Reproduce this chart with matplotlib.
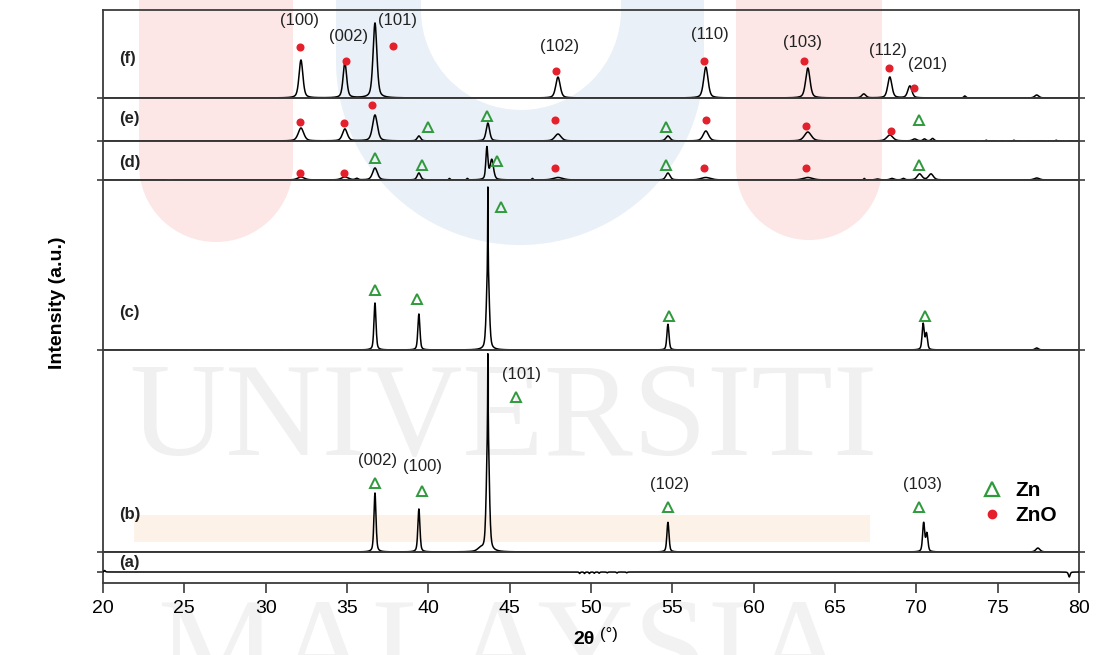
import numpy as np
import matplotlib
matplotlib.use('Agg')
import matplotlib.pyplot as plt
from matplotlib.patches import Rectangle, Ellipse
from matplotlib.lines import Line2D

plt.rcParams['font.family'] = ['Liberation Sans', 'DejaVu Sans']

# ---------------- data (intensity in arbitrary units) -------------
two_theta_min, two_theta_max = 20, 80
x_ticks = [20, 25, 30, 35, 40, 45, 50, 55, 60, 65, 70, 75, 80]
panel_names = ['f', 'e', 'd', 'c', 'b', 'a']

# (f) peaks
f_pos = [32.17, 34.87, 36.72, 47.97, 57.06, 63.33, 66.77, 68.37, 69.60, 72.98, 77.40]
f_int = [38, 35, 75, 21, 31, 30, 4, 21, 12, 2, 3]
f_fwhm = [0.28, 0.26, 0.28, 0.32, 0.32, 0.32, 0.30, 0.30, 0.30, 0.15, 0.30]
f_dot_x = [32.11, 34.94, 37.82, 47.84, 56.94, 63.09, 68.31, 69.85]
f_dot_y = [51, 37, 52, 27, 37, 37, 30, 10]
f_hkl = ['(100)', '(002)', '(101)', '(102)', '(110)', '(103)', '(112)', '(201)']
f_hkl_x = [32.11, 35.12, 38.13, 48.09, 57.31, 63.02, 68.25, 70.71]
f_hkl_y = [77, 61, 77, 51, 63, 56, 48, 33]

# (e) peaks
e_pos = [32.17, 34.87, 36.72, 39.42, 43.66, 47.97, 54.73, 57.06, 63.33, 68.37, 69.9, 70.5, 71.0,
         73.8, 74.3, 75.0, 75.5, 76.0, 76.6, 78.0, 78.6, 79.2, 79.7]
e_int = [13, 12, 26, 5, 18, 7, 5, 10, 9, 6, 2, 2, 2.5,
         -1.2, 0.8, -1.2, -1.0, 0.8, -1.2, -1.0, 0.8, -1.2, -1.0]
e_fwhm = [0.40, 0.35, 0.35, 0.25, 0.25, 0.45, 0.30, 0.40, 0.50, 0.45, 0.30, 0.20, 0.20,
          0.12, 0.10, 0.12, 0.12, 0.10, 0.12, 0.12, 0.10, 0.12, 0.12]
e_dot_x = [32.11, 34.81, 36.53, 47.78, 57.06, 63.21, 68.43]
e_dot_y = [19, 18, 36, 21, 21, 15, 10]
e_tri_x = [39.98, 43.60, 54.60, 70.15]
e_tri_y = [14, 25, 14, 21]

# (d) peaks
d_pos = [24.1, 32.17, 34.87, 35.6, 36.72, 39.42, 41.3, 42.4, 43.60, 43.90, 46.4, 47.97,
         54.73, 57.06, 63.33, 66.8, 67.6, 68.5, 69.2, 70.2, 70.9, 77.4]
d_int = [-1.5, 3, 3, 1.5, 12, 7, 1.5, 1.5, 32, 20, 1.5, 2.5,
         7, 2.5, 2.5, 1.5, 1.0, 1.5, 1.5, 6, 6, 2]
d_fwhm = [0.25, 0.50, 0.50, 0.20, 0.35, 0.25, 0.10, 0.10, 0.15, 0.25, 0.10, 0.70,
          0.30, 0.70, 0.70, 0.10, 0.30, 0.30, 0.20, 0.35, 0.35, 0.40]
d_dot_x = [32.11, 34.81, 47.78, 56.94, 63.21]
d_dot_y = [7, 7, 12, 12, 12]
d_tri_x = [36.72, 39.60, 44.20, 54.60, 70.15]
d_tri_y = [22, 15, 19, 15, 15]

# (c) peaks
c_pos = [21.5, 22.6, 25.3, 26.0, 26.8, 27.5, 28.3, 29.0, 29.8, 30.6, 31.2,
         36.72, 39.42, 43.66, 43.66, 54.73, 70.42, 70.62, 77.4]
c_int = [-2, -2, -1, -1, -1, -1, -1, -1, -1, -1, -1,
         47, 36, 85, 78, 26, 26, 16, 2]
c_fwhm = [0.08, 0.08, 0.10, 0.10, 0.10, 0.10, 0.10, 0.10, 0.10, 0.10, 0.10,
          0.15, 0.15, 0.20, 0.03, 0.15, 0.15, 0.15, 0.25]
c_tri_x = [36.72, 39.30, 44.46, 54.79, 70.52]
c_tri_y = [60, 51, 143, 34, 34]

# (b) peaks
b_pos = [36.72, 39.42, 43.20, 43.66, 43.66, 54.73, 70.45, 70.65, 77.47]
b_int = [59, 43, 3, 125, 73, 30, 29, 18, 4]
b_fwhm = [0.15, 0.15, 0.40, 0.20, 0.03, 0.15, 0.15, 0.15, 0.30]
b_tri_x = [36.72, 39.60, 45.38, 54.73, 70.15]
b_tri_y = [69, 61, 155, 45, 45]
b_hkl = ['(002)', '(100)', '(101)', '(102)', '(103)']
b_hkl_x = [36.90, 39.67, 45.75, 54.85, 70.40]
b_hkl_y = [92, 85, 177, 67, 67]

# (a) nearly flat pattern
a_pos = [20.1, 49.3, 49.6, 49.9, 50.2, 50.5, 51.0, 51.6, 52.2, 79.4]
a_int = [1.5, -1.5, -1.5, -1.5, -1.2, -1.2, -0.8, -1.0, -0.8, -5]
a_fwhm = [0.10, 0.08, 0.08, 0.08, 0.08, 0.08, 0.08, 0.08, 0.08, 0.12]

# ---------------- layout ----------------
W, H = 1102, 655
fig = plt.figure(figsize=(W / 100, H / 100), dpi=100)

def fx(px):
    return px / W

def fy(py):
    return 1 - py / H

# faint background watermark
pink = '#fce6e6'
blue = '#e9f0f7'

def pillar(x0, x1, ybot, color):
    r = (x1 - x0) / 2
    yc = ybot - r
    fig.add_artist(Rectangle((fx(x0), fy(yc)), (x1 - x0) / W, yc / H + 0.01,
                             transform=fig.transFigure, color=color, lw=0, zorder=-5))
    fig.add_artist(Ellipse((fx((x0 + x1) / 2), fy(yc)), 2 * r / W, 2 * r / H,
                           transform=fig.transFigure, color=color, lw=0, zorder=-5))

pillar(139, 293, 242, pink)
pillar(336, 704, 245, blue)
pillar(421, 621, 110, 'white')
pillar(736, 882, 240, pink)
fig.add_artist(Rectangle((fx(134), fy(542)), (870 - 134) / W, 27 / H,
                         transform=fig.transFigure, color='#fdf2e8', lw=0, zorder=-5))
fig.text(fx(503), fy(455), 'UNIVERSITI', ha='center', va='baseline', fontsize=96,
         family='Liberation Serif', color='#f0f0f0', zorder=-4)
fig.text(fx(503), fy(690), 'MALAYSIA', ha='center', va='baseline', fontsize=96,
         family='Liberation Serif', color='#f2f2f2', zorder=-4)

x0_px, x1_px = 103, 1079
bounds = {'f': (10, 98), 'e': (98, 141), 'd': (141, 180),
          'c': (180, 350), 'b': (350, 552), 'a': (552, 583)}

x = np.arange(two_theta_min, two_theta_max + 0.001, 0.02)

def pattern(pos, inten, fwhm):
    y = np.zeros_like(x)
    for c, h, w in zip(pos, inten, fwhm):
        g = np.exp(-4 * np.log(2) * ((x - c) / w) ** 2)
        l = 1 / (1 + 4 * ((x - c) / w) ** 2)
        y += h * (0.55 * g + 0.45 * l)
    return y

tables = {'f': (f_pos, f_int, f_fwhm), 'e': (e_pos, e_int, e_fwhm),
          'd': (d_pos, d_int, d_fwhm), 'c': (c_pos, c_int, c_fwhm),
          'b': (b_pos, b_int, b_fwhm), 'a': (a_pos, a_int, a_fwhm)}

label_y = {'f': 40, 'e': 23, 'd': 18, 'c': 38, 'b': 38, 'a': 10}

red = '#e3202b'
green = '#2f9a3c'
spine_c = '#3c3c3c'

axes = {}
for name in panel_names:
    top, bot = bounds[name]
    ax = fig.add_axes([fx(x0_px), fy(bot), (x1_px - x0_px) / W, (bot - top) / H])
    ax.set_facecolor('none')
    ax.set_xlim(two_theta_min, two_theta_max)
    if name == 'a':
        ax.set_ylim(-11, bot - top - 11)
    else:
        ax.set_ylim(0, bot - top)
    for s in ax.spines.values():
        s.set_color(spine_c)
        s.set_linewidth(1.3)
    ax.set_yticks([0])
    ax.tick_params(axis='y', left=True, right=True, direction='out', length=4,
                   width=1.2, color=spine_c, labelleft=False)
    if name == 'a':
        ax.set_xticks(x_ticks)
        ax.tick_params(axis='x', direction='out', length=7, width=1.2, color=spine_c,
                       labelsize=14, pad=5)
    else:
        ax.tick_params(axis='x', bottom=False, labelbottom=False)
    pos, inten, fwhm = tables[name]
    ax.plot(x, pattern(pos, inten, fwhm), color='black', lw=1.1, zorder=3)
    ax.text(21.0, label_y[name], '(%s)' % name, ha='left', va='center',
            fontsize=12, fontweight='bold', color='#222222')
    axes[name] = ax

def dots(ax, xs, ys):
    ax.plot(xs, ys, ls='none', marker='o', ms=4.8, color=red, mec=red, zorder=5, clip_on=False)

def tris(ax, xs, ys):
    ax.plot(xs, ys, ls='none', marker='^', ms=7.5, mfc='none', mec=green, mew=1.4,
            zorder=5, clip_on=False)

dots(axes['f'], f_dot_x, f_dot_y)
for t, xx, yy in zip(f_hkl, f_hkl_x, f_hkl_y):
    axes['f'].text(xx, yy, t, ha='center', va='center', fontsize=12, color='#222222')
dots(axes['e'], e_dot_x, e_dot_y)
tris(axes['e'], e_tri_x, e_tri_y)
dots(axes['d'], d_dot_x, d_dot_y)
tris(axes['d'], d_tri_x, d_tri_y)
tris(axes['c'], c_tri_x, c_tri_y)
tris(axes['b'], b_tri_x, b_tri_y)
for t, xx, yy in zip(b_hkl, b_hkl_x, b_hkl_y):
    axes['b'].text(xx, yy, t, ha='center', va='center', fontsize=12, color='#222222')

handles = [Line2D([], [], ls='none', marker='^', ms=10, mfc='none', mec=green, mew=1.6, label='Zn'),
           Line2D([], [], ls='none', marker='o', ms=6, color=red, label='ZnO')]
axes['b'].legend(handles=handles, loc='center left', bbox_to_anchor=(0.890, 0.2426),
                 frameon=False, prop={'weight': 'bold', 'size': 15}, borderpad=0,
                 handlelength=1.0, handletextpad=0.6, labelspacing=0.27)

fig.text(fx(57), fy(303), 'Intensity (a.u.)', rotation=90, ha='center', va='center',
         fontsize=14, fontweight='bold')
fig.text(fx(595), fy(640), '2θ', ha='right', va='center', fontsize=14, fontweight='bold')
fig.text(fx(600), fy(634), '(°)', ha='left', va='center', fontsize=12)

fig.savefig('out.png', dpi=100)
